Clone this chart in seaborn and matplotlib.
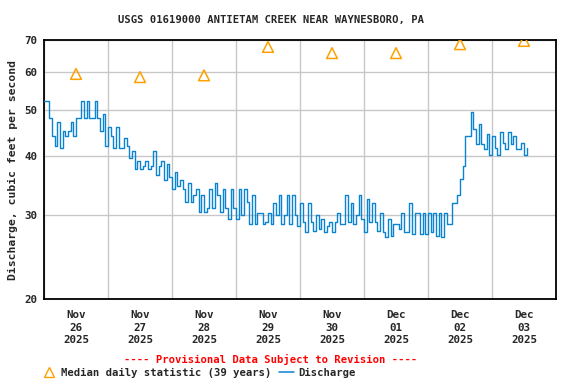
import matplotlib
matplotlib.use("Agg")
import matplotlib.pyplot as plt
import matplotlib.dates as mdates
from matplotlib.lines import Line2D
import seaborn as sns
import pandas as pd

title = "USGS 01619000 ANTIETAM CREEK NEAR WAYNESBORO, PA"
start = "2025-11-26 00:00"

# hourly discharge (cfs), starting Nov 26 00:00
discharge_cfs = [
    52, 52, 48, 44, 42, 47, 41.5, 45, 44, 45, 47, 44, 48, 48, 52, 48, 52, 48, 48, 52, 48, 45, 49, 42,
    46, 44, 41.5, 46, 41.5, 41.5, 43.5, 42, 39.5, 41, 37.5, 39, 37.5, 38, 39, 37.5, 38, 41, 36.5, 38, 39, 35.5, 38.5, 36,
    34, 37, 34.5, 35.5, 34, 32, 35, 32, 33, 34, 30.5, 33, 30.5, 31, 34, 31, 35, 33, 30.5, 34, 31, 29.5, 34, 31,
    29.5, 34, 30, 34, 32, 28.7, 33, 28.7, 30.3, 30.3, 28.7, 29, 30.3, 28.7, 31.8, 30, 33, 28.7, 30, 33, 28.7, 33, 30, 28.5,
    31.8, 29, 27.6, 31.8, 29, 27.8, 30, 28, 29.5, 27.6, 28.5, 29, 27.6, 29, 30.3, 28.7, 28.7, 33, 29, 31.8, 28.7, 30, 33, 29.5,
    27.6, 32.5, 29, 31.8, 29, 27.8, 30.3, 27.6, 27, 29.5, 27.1, 28.7, 28.7, 28, 30.3, 27.6, 27.6, 31.8, 27.4, 30.3, 30.3, 27.4, 30.3, 27.4,
    30.3, 27.6, 30.3, 27.1, 30.3, 27, 30.3, 28.7, 28.7, 31.8, 31.8, 33, 35.7, 38, 43.9, 43.9, 49.5, 45.5, 42.3, 46.7, 42.3, 41.3, 44.5, 40.2,
    43.9, 41.5, 40.2, 44.8, 42.5, 41.3, 44.8, 42.3, 43.9, 41.3, 41.3, 42.5, 40.2, 41.5,
]

# median daily statistic (39 years), at noon of each day
median_cfs = [59.4, 58.5, 59.0, 67.7, 65.7, 65.7, 68.6, 69.7]

y_ticks = [20, 30, 40, 50, 60, 70]

times = pd.date_range(start, periods=len(discharge_cfs), freq="h")
days = pd.date_range(start, periods=len(median_cfs), freq="D")
df = pd.DataFrame({"time": times, "cfs": discharge_cfs})
med = pd.DataFrame({"time": days + pd.Timedelta(hours=12), "cfs": median_cfs})

sns.set_style("white")
plt.rcParams["font.family"] = "DejaVu Sans Mono"
plt.rcParams["font.weight"] = "bold"

fig = plt.figure(figsize=(5.76, 3.84), dpi=100)
ax = fig.add_axes([44 / 576, 85 / 384, 512 / 576, 259 / 384])

blue = "#0a84d0"
orange = "#ffa000"
sns.lineplot(data=df, x="time", y="cfs", ax=ax, color=blue, lw=1.0,
             drawstyle="steps-post", zorder=3)
sns.scatterplot(data=med, x="time", y="cfs", ax=ax, marker="^", s=60,
                facecolors="none", edgecolor=orange, linewidth=1.1, zorder=4)

ax.set_yscale("log")
ax.set_ylim(20, 70)
ax.set_yticks(y_ticks)
ax.set_yticklabels([str(v) for v in y_ticks])
ax.yaxis.set_minor_locator(matplotlib.ticker.NullLocator())
ax.set_xlim(pd.Timestamp(start), pd.Timestamp(start) + pd.Timedelta(days=8))

ax.xaxis.set_major_locator(mdates.HourLocator(byhour=[12]))
ax.xaxis.set_major_formatter(mdates.DateFormatter("%b\n%d\n%Y"))
ax.xaxis.set_minor_locator(mdates.DayLocator())
ax.grid(True, which="minor", axis="x", color="#c8c8c8", lw=1)
ax.grid(True, which="major", axis="y", color="#c8c8c8", lw=1)
ax.grid(False, which="major", axis="x")
ax.tick_params(which="both", length=0, labelsize=7.8, pad=5)
ax.tick_params(axis="x", pad=8)
for lab in ax.get_xticklabels():
    lab.set_linespacing(1.3)
for lab in ax.get_xticklabels() + ax.get_yticklabels():
    lab.set_fontweight("bold")
for sp in ax.spines.values():
    sp.set_color("black")
    sp.set_linewidth(1.3)

ax.set_xlabel("")
ax.set_ylabel("Discharge, cubic feet per second", fontsize=8.2, fontweight="bold", labelpad=4)
fig.text(271 / 576, 1 - 20 / 384, title, ha="center", va="center", fontsize=7.6, fontweight="bold")
fig.text(271 / 576, 1 - 359 / 384, "---- Provisional Data Subject to Revision ----",
         ha="center", va="center", color="red", fontsize=7.6, fontweight="bold")

handles = [
    Line2D([], [], ls="none", marker="^", markerfacecolor="none", markeredgecolor=orange, markersize=7),
    Line2D([], [], color=blue, lw=1.1),
]
fig.legend(handles, ["Median daily statistic (39 years)", "Discharge"], ncol=2,
           loc="center left", bbox_to_anchor=(42 / 576, 1 - 373 / 384), frameon=False,
           prop={"size": 7.6, "weight": "bold"}, handlelength=1.4, handletextpad=0.4,
           columnspacing=0.75, borderpad=0, borderaxespad=0)

fig.savefig("out.png", dpi=100)
